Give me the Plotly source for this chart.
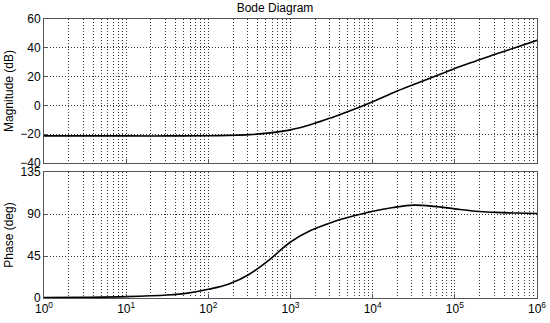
import plotly.graph_objects as go
from plotly.subplots import make_subplots

# Magnitude data (frequency, dB)
mag_freq = [1, 10, 31.6, 100, 178, 316, 562, 1000, 1778, 3162, 5623, 10000, 17780, 31620, 56230,
            100000, 177800, 316200, 562300, 1000000]
mag_db = [-21.2, -21.2, -21.2, -21.1, -20.8, -20.3, -19.1, -17.0, -13.3, -8.5, -3.2, 2.6, 8.8, 14.5, 20.0,
          25.6, 30.7, 35.7, 40.4, 45.2]

# Phase data (frequency, deg)
ph_freq = [1, 3.16, 10, 31.6, 56.2, 100, 178, 316, 562, 1000, 1778, 3162, 5623, 10000, 17780, 31620,
           56230, 100000, 177800, 316200, 562300, 1000000]
ph_deg = [0.5, 0.8, 1.5, 3.2, 5.2, 9.3, 15, 25.5, 41.5, 60, 72.5, 81, 87.5, 93, 97, 99.5,
          98.2, 95.5, 93, 91.7, 91, 90.5]

x_tickvals = [1, 10, 100, 1000, 10000, 100000, 1000000]
x_ticktext = ["10<sup>0</sup>", "10<sup>1</sup>", "10<sup>2</sup>", "10<sup>3</sup>",
              "10<sup>4</sup>", "10<sup>5</sup>", "10<sup>6</sup>"]
mag_ticks = [-40, -20, 0, 20, 40, 60]
ph_ticks = [0, 45, 90, 135]

FONT = "Liberation Sans, Arial, sans-serif"
GRID = "#333"
FRAME = "#555"
DASH = "1px,2px"

fig = make_subplots(rows=2, cols=1, shared_xaxes=False, vertical_spacing=0.03)

fig.add_trace(go.Scatter(x=mag_freq, y=mag_db, mode="lines",
                         line=dict(color="black", width=1.6, shape="spline", smoothing=1.0),
                         showlegend=False), row=1, col=1)
fig.add_trace(go.Scatter(x=ph_freq, y=ph_deg, mode="lines",
                         line=dict(color="black", width=1.6, shape="spline", smoothing=1.0),
                         showlegend=False), row=2, col=1)

common_x = dict(type="log", range=[0, 6], tickvals=x_tickvals, ticktext=x_ticktext,
                showgrid=True, gridcolor=GRID, griddash=DASH, gridwidth=1,
                minor=dict(dtick="D1", showgrid=True, gridcolor=GRID, griddash=DASH, gridwidth=1, ticks=""),
                showline=True, linecolor=FRAME, linewidth=1, mirror=True, ticks="inside", ticklen=4,
                tickcolor=FRAME, zeroline=False, automargin=False,
                tickfont=dict(size=12, color="black", family=FONT))
common_y = dict(showgrid=True, gridcolor=GRID, griddash=DASH, gridwidth=1, showline=True, linecolor=FRAME,
                linewidth=1, mirror=True, ticks="inside", ticklen=4, tickcolor=FRAME, zeroline=False,
                automargin=False, tickfont=dict(size=12, color="black", family=FONT))

fig.update_xaxes(**common_x)
fig.update_xaxes(showticklabels=False, row=1, col=1)
fig.update_yaxes(**common_y)
fig.update_yaxes(range=[-40, 60], tickvals=mag_ticks, domain=[0.4839, 1.0], row=1, col=1,
                 title=dict(text="Magnitude (dB)", font=dict(size=12, family=FONT, color="black"), standoff=4))
fig.update_yaxes(range=[0, 135], tickvals=ph_ticks, domain=[0.0, 0.4516], row=2, col=1,
                 title=dict(text="Phase (deg)", font=dict(size=12, family=FONT, color="black"), standoff=4))

fig.update_layout(
    width=550, height=323,
    margin=dict(l=44, r=13, t=19, b=25),
    paper_bgcolor="white", plot_bgcolor="white",
    title=dict(text="Bode Diagram", x=0.5, xanchor="center", y=0.975, yanchor="middle",
               font=dict(size=12, family=FONT, color="black")),
    font=dict(family=FONT, color="black"),
)

fig.write_html("out.html", config={"displayModeBar": False},
               post_script="document.body.style.margin='0px';")
